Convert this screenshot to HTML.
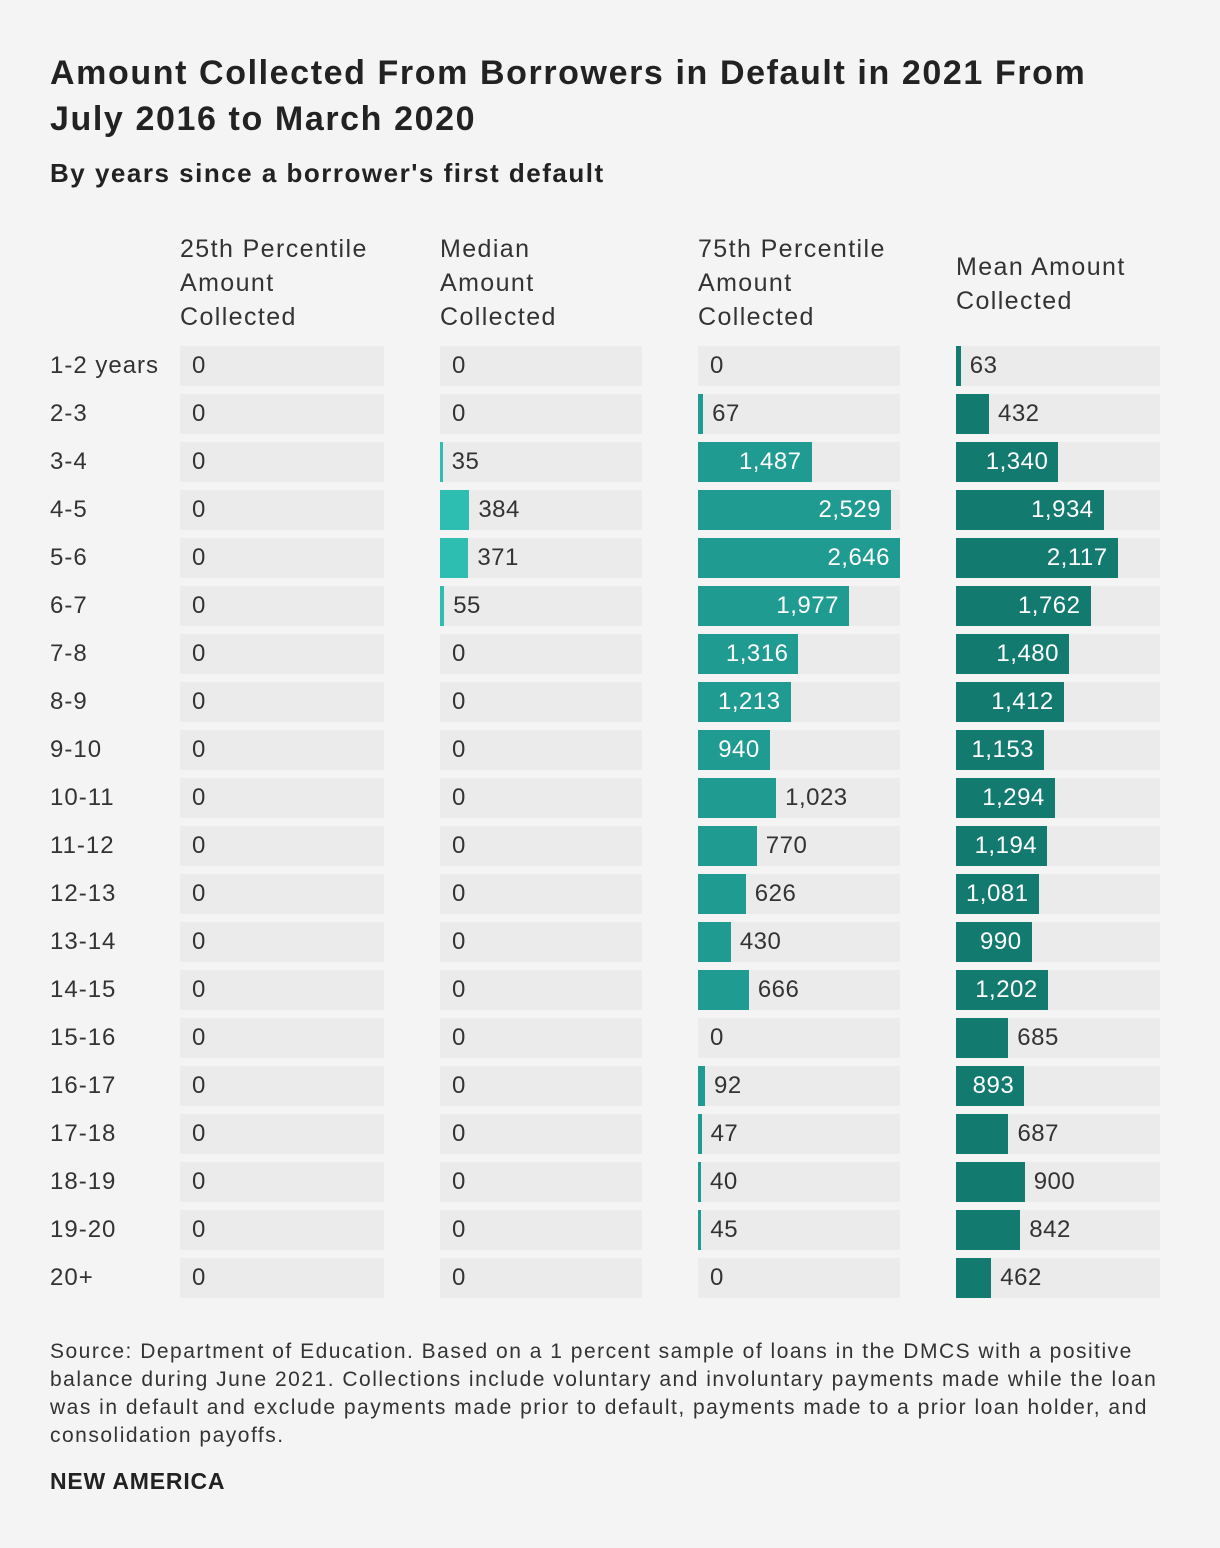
<!DOCTYPE html>
<html><head><meta charset="utf-8"><style>
body{margin:0;width:1220px;height:1548px;background:#f4f4f4;font-family:"Liberation Sans",sans-serif;color:#333;position:relative;overflow:hidden}
.t{position:absolute;white-space:nowrap}
</style></head><body>
<div class="t" style="left:50px;top:50px;font-size:34px;font-weight:bold;line-height:46px;color:#222;letter-spacing:1.6px">Amount Collected From Borrowers in Default in 2021 From<br>July 2016 to March 2020</div>
<div class="t" style="left:50px;top:158px;font-size:26px;font-weight:bold;color:#222;letter-spacing:1.5px">By years since a borrower's first default</div>
<div class="t" style="left:180px;top:232px;font-size:25px;line-height:34px;letter-spacing:1.4px">25th Percentile<br>Amount<br>Collected</div>
<div class="t" style="left:440px;top:232px;font-size:25px;line-height:34px;letter-spacing:1.4px">Median<br>Amount<br>Collected</div>
<div class="t" style="left:698px;top:232px;font-size:25px;line-height:34px;letter-spacing:1.4px">75th Percentile<br>Amount<br>Collected</div>
<div class="t" style="left:956px;top:250px;font-size:25px;line-height:34px;letter-spacing:1.4px">Mean Amount<br>Collected</div>
<div id="rows"></div>
<div class="t" style="left:50px;top:1338px;font-size:21px;line-height:28px;color:#333;letter-spacing:1.5px">Source: Department of Education. Based on a 1 percent sample of loans in the DMCS with a positive<br>balance during June 2021. Collections include voluntary and involuntary payments made while the loan<br>was in default and exclude payments made prior to default, payments made to a prior loan holder, and<br>consolidation payoffs.</div>
<div class="t" style="left:50px;top:1468px;font-size:23px;font-weight:bold;color:#222;letter-spacing:0.8px">NEW AMERICA</div>
<script>
const categories=["1-2 years","2-3","3-4","4-5","5-6","6-7","7-8","8-9","9-10","10-11","11-12","12-13","13-14","14-15","15-16","16-17","17-18","18-19","19-20","20+"];
const p25=[0,0,0,0,0,0,0,0,0,0,0,0,0,0,0,0,0,0,0,0];
const median=[0,0,35,384,371,55,0,0,0,0,0,0,0,0,0,0,0,0,0,0];
const p75=[0,67,1487,2529,2646,1977,1316,1213,940,1023,770,626,430,666,0,92,47,40,45,0];
const mean=[63,432,1340,1934,2117,1762,1480,1412,1153,1294,1194,1081,990,1202,685,893,687,900,842,462];
const p75Inside=[0,0,1,1,1,1,1,1,1,0,0,0,0,0,0,0,0,0,0,0];
const meanInside=[0,0,1,1,1,1,1,1,1,1,1,1,1,1,0,1,0,0,0,0];
const series=[{d:p25,x:180,w:204,c:"#2ebdb1",ins:null,n:"p25"},{d:median,x:440,w:202,c:"#2ebdb1",ins:null,n:"median"},{d:p75,x:698,w:202,c:"#1f9b91",ins:p75Inside,n:"p75"},{d:mean,x:956,w:204,c:"#137a70",ins:meanInside,n:"mean"}];
const maxV=2646,top0=346,pitch=48,h=40;
const sx=v=>v/maxV*202;
const root=document.getElementById('rows');
const fmt=v=>v.toLocaleString('en-US');
function div(css,name){const e=document.createElement('div');e.style.cssText='position:absolute;'+css;


root.appendChild(e);return e;}
categories.forEach((cat,i)=>{
 const y=top0+i*pitch;
 const l=div(`left:50px;top:${y}px;height:${h}px;line-height:${h}px;font-size:24px;color:#333;letter-spacing:1px;white-space:nowrap`,'row-label');
 l.textContent=cat;
 series.forEach(s=>{
  const v=s.d[i];
  div(`left:${s.x}px;top:${y}px;width:${s.w}px;height:${h}px;background:#ebebeb`,'bar-track');
  const bw=sx(v);
  if(v>0)div(`left:${s.x}px;top:${y}px;width:${bw}px;height:${h}px;background:${s.c}`,'bar-'+s.n);
  const inside=s.ins&&s.ins[i];
  let t;
  if(inside){t=div(`left:${s.x}px;width:${bw-10}px;text-align:right;top:${y}px;height:${h}px;line-height:${h}px;font-size:24px;color:#fff;letter-spacing:0.5px`,'value-label');}
  else{t=div(`left:${s.x+(v>0?bw+9:12)}px;top:${y}px;height:${h}px;line-height:${h}px;font-size:24px;color:#333;letter-spacing:0.5px`,'value-label');}
  t.textContent=fmt(v);
 });
});
</script>
</body></html>
